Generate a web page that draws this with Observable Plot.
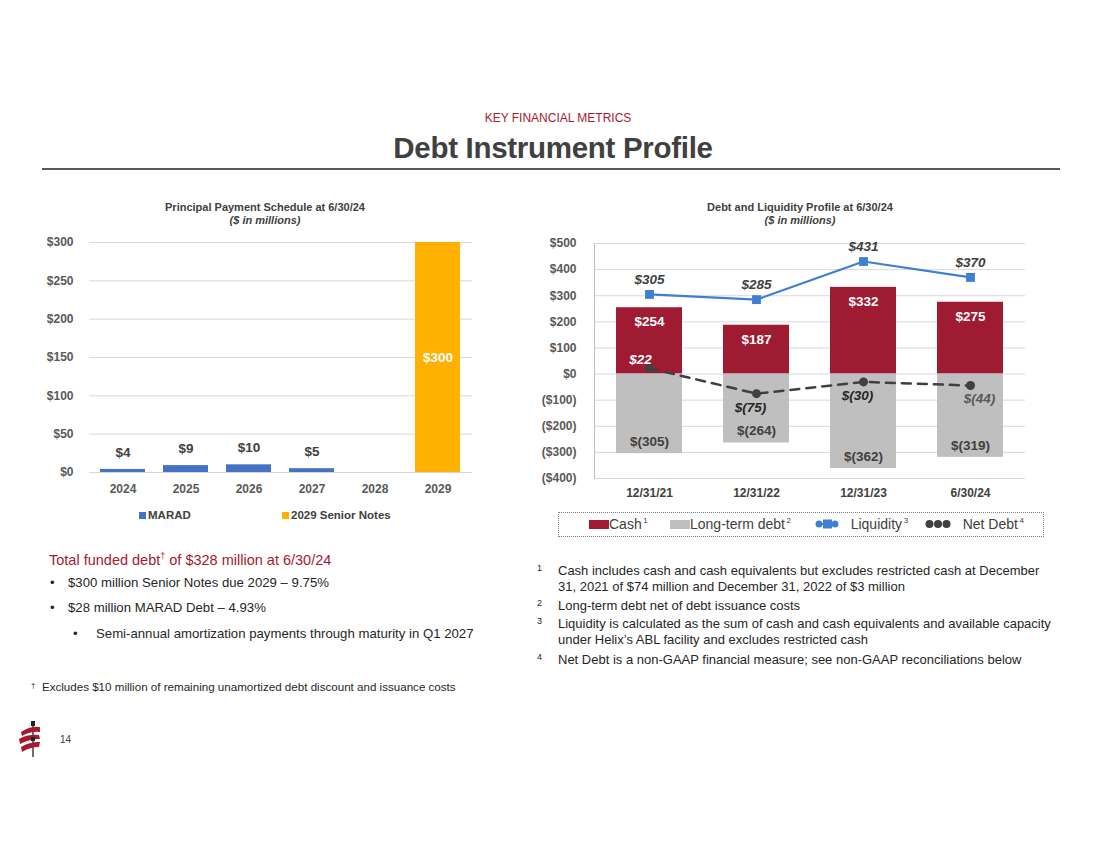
<!DOCTYPE html>
<html><head><meta charset="utf-8">
<script src="https://cdn.jsdelivr.net/npm/d3@7"></script>
<script src="https://cdn.jsdelivr.net/npm/@observablehq/plot@0.6"></script>
<style>
body{margin:0;background:#fff;font-family:"Liberation Sans",Arial,sans-serif;}
#page{position:relative;width:1100px;height:849px;overflow:hidden;background:#fff;}
.abs{position:absolute;}
.ctitle{font-weight:bold;font-size:11px;color:#404040;text-align:center;line-height:13px;}
.ctitle i{font-weight:bold;}
.fn{position:absolute;left:558px;font-size:13px;color:#262626;line-height:16px;width:497px;}
.fn sup{position:absolute;left:-21px;top:-3px;font-size:9px;}
.bl{position:absolute;font-size:13.2px;color:#262626;}
</style></head><body><div id="page">
<div class="abs" style="left:0;width:1116px;top:111px;text-align:center;font-size:12px;color:#A6192E;">KEY FINANCIAL METRICS</div>
<div class="abs" style="left:0;width:1106px;top:131px;text-align:center;font-size:29.5px;font-weight:bold;color:#404040;letter-spacing:-0.3px;">Debt Instrument Profile</div>
<div class="abs" style="left:42px;top:168px;width:1018px;height:2px;background:#595959;"></div>

<div class="abs ctitle" style="left:120px;width:290px;top:201px;">Principal Payment Schedule at 6/30/24<br><i>($ in millions)</i></div>
<div class="abs ctitle" style="left:655px;width:290px;top:201px;">Debt and Liquidity Profile at 6/30/24<br><i>($ in millions)</i></div>

<div id="left" class="abs" style="left:40px;top:230px;"></div>
<div id="right" class="abs" style="left:520px;top:230px;"></div>

<div class="abs" style="left:139px;top:509px;font-size:11.5px;font-weight:bold;color:#404040;"><span style="display:inline-block;width:7px;height:7px;background:#4472C4;margin-right:2px;"></span>MARAD</div>
<div class="abs" style="left:282px;top:509px;font-size:11.5px;font-weight:bold;color:#404040;"><span style="display:inline-block;width:7px;height:7px;background:#FFB000;margin-right:2px;"></span>2029 Senior Notes</div>

<div id="rlegend" class="abs" style="left:558px;top:512px;width:484px;height:23px;border:1px dotted #7f7f7f;font-size:14px;color:#404040;"></div>

<div class="abs" style="left:49px;top:551px;font-size:14.5px;color:#A6192E;">Total funded debt<sup style="font-size:9px;">†</sup> of $328 million at 6/30/24</div>
<div class="bl" style="left:50px;top:575px;">•</div><div class="bl" style="left:68px;top:575px;">$300 million Senior Notes due 2029 – 9.75%</div>
<div class="bl" style="left:50px;top:600px;">•</div><div class="bl" style="left:68px;top:600px;">$28 million MARAD Debt – 4.93%</div>
<div class="bl" style="left:73px;top:626px;">•</div><div class="bl" style="left:96px;top:626px;">Semi-annual amortization payments through maturity in Q1 2027</div>
<div class="abs" style="left:31px;top:680px;font-size:11.6px;color:#262626;"><span style="font-size:8px;vertical-align:3px;">†</span>&nbsp; Excludes $10 million of remaining unamortized debt discount and issuance costs</div>

<div class="fn" style="top:563px;"><sup>1</sup>Cash includes cash and cash equivalents but excludes restricted cash at December 31, 2021 of $74 million and December 31, 2022 of $3 million</div>
<div class="fn" style="top:598px;"><sup>2</sup>Long-term debt net of debt issuance costs</div>
<div class="fn" style="top:616px;"><sup>3</sup>Liquidity is calculated as the sum of cash and cash equivalents and available capacity under Helix’s ABL facility and excludes restricted cash</div>
<div class="fn" style="top:652px;"><sup>4</sup>Net Debt is a non-GAAP financial measure; see non-GAAP reconciliations below</div>

<svg class="abs" style="left:16px;top:720px;" width="26" height="38" viewBox="0 0 26 38">
  <line x1="17" y1="2" x2="17" y2="37" stroke="#222" stroke-width="1.3"/>
  <rect x="15" y="1" width="4" height="5" fill="#222"/>
  <path d="M5 12 Q14 6 24 7 L24 12 Q15 11 6 16 Z" fill="#A6192E"/>
  <path d="M3 19 Q12 14 23 15 L24 19 Q14 19 4 24 Z" fill="#A6192E"/>
  <path d="M5 27 Q13 22 24 22 L23 27 Q14 27 6 32 Z" fill="#A6192E"/>
  <rect x="15" y="17" width="4" height="4" fill="#222"/>
</svg>
<div class="abs" style="left:60px;top:734px;font-size:10px;color:#404040;">14</div>
</div>
<script>
// ---- Left chart data ----
const years = ["2024", "2025", "2026", "2027", "2028", "2029"];
const maradValues = [4, 9, 10, 5, 0, 0];
const seniorNotesValues = [0, 0, 0, 0, 0, 300];
const leftTicks = [0, 50, 100, 150, 200, 250, 300];

// ---- Right chart data ----
const periods = ["12/31/21", "12/31/22", "12/31/23", "6/30/24"];
const cashValues = [254, 187, 332, 275];
const longTermDebtValues = [-305, -264, -362, -319];
const liquidityValues = [305, 285, 431, 370];
const netDebtValues = [22, -75, -30, -44];
const rightTicks = [-400, -300, -200, -100, 0, 100, 200, 300, 400, 500];

const FONT = "'Liberation Sans', Arial, sans-serif";
const marad = years.map((y, i) => ({year: y, value: maradValues[i]})).filter(d => d.value > 0);
const senior = years.map((y, i) => ({year: y, value: seniorNotesValues[i]})).filter(d => d.value > 0);

const left = Plot.plot({
  width: 440, height: 268,
  marginLeft: 49, marginRight: 8, marginTop: 12, marginBottom: 26,
  x: {domain: years, paddingInner: 0.28, paddingOuter: 0.14, label: null},
  y: {domain: [0, 300], label: null},
  style: {fontFamily: FONT, fontSize: "12px", fontWeight: "bold", color: "#595959", background: "transparent"},
  marks: [
    Plot.gridY(leftTicks, {stroke: "#d9d9d9", strokeOpacity: 1}),
    Plot.axisY(leftTicks, {tickSize: 0, tickPadding: 16, tickFormat: d => "$" + d, label: null, fontSize: 12}),
    Plot.axisX({tickSize: 0, tickPadding: 12, label: null, fontSize: 12}),
    Plot.barY(marad, {x: "year", y: "value", fill: "#4472C4"}),
    Plot.barY(senior, {x: "year", y: "value", fill: "#FFB000"}),
    Plot.text(marad, {x: "year", y: "value", text: d => "$" + d.value, dy: -17, fill: "#404040", fontSize: 13.5, fontWeight: "bold"}),
    Plot.text(senior, {x: "year", y: d => d.value / 2, text: d => "$" + d.value, fill: "white", fontSize: 13.5, fontWeight: "bold"})
  ]
});
document.getElementById("left").appendChild(left);

const rows = periods.map((p, i) => ({period: p, cash: cashValues[i], ltd: longTermDebtValues[i], liq: liquidityValues[i], nd: netDebtValues[i], i}));
const money = v => v >= 0 ? "$" + v : "$(" + (-v) + ")";
const RED = "#9E1B32", GRAY = "#BFBFBF", BLUE = "#3F7FD2", DARK = "#404040";

const right = Plot.plot({
  width: 520, height: 272,
  marginLeft: 74, marginRight: 15, marginTop: 13, marginBottom: 24,
  x: {domain: periods, paddingInner: 0.38, paddingOuter: 0.19, label: null},
  y: {domain: [-400, 500], label: null},
  style: {fontFamily: FONT, fontSize: "12px", fontWeight: "bold", color: "#595959", background: "transparent"},
  marks: [
    Plot.gridY(rightTicks, {stroke: "#d9d9d9", strokeOpacity: 1}),
    Plot.frame({anchor: "left", stroke: "#bfbfbf"}),
    Plot.axisY(rightTicks, {tickSize: 0, tickPadding: 18, tickFormat: d => d >= 0 ? "$" + d : "($" + (-d) + ")", label: null, fontSize: 12}),
    Plot.axisX({tickSize: 0, tickPadding: 10, label: null, fontSize: 12, fill: "#404040"}),
    Plot.barY(rows, {x: "period", y: "cash", fill: RED}),
    Plot.barY(rows, {x: "period", y: "ltd", fill: GRAY}),
    Plot.text(rows, {x: "period", y: "cash", text: d => money(d.cash), dy: 14, fill: "white", fontSize: 13.5, fontWeight: "bold"}),
    Plot.text(rows, {x: "period", y: "ltd", text: d => money(d.ltd), dy: -12, fill: DARK, fontSize: 13.5, fontWeight: "bold"}),
    Plot.line(rows, {x: "period", y: "liq", stroke: BLUE, strokeWidth: 2.2}),
    Plot.dot(rows, {x: "period", y: "liq", symbol: "square", r: 5, fill: BLUE}),
    Plot.text(rows, {x: "period", y: "liq", text: d => money(d.liq), dy: -15, fill: DARK, fontSize: 13.5, fontWeight: "bold", fontStyle: "italic"}),
    Plot.line(rows, {x: "period", y: "nd", stroke: DARK, strokeWidth: 2.5, strokeDasharray: "9,7"}),
    Plot.dot(rows, {x: "period", y: "nd", r: 4.5, fill: DARK}),
    Plot.text(rows.filter(d => d.nd >= 0), {x: "period", y: "nd", text: d => money(d.nd), dx: -9, dy: -9, fill: "white", fontSize: 13.5, fontWeight: "bold", fontStyle: "italic"}),
    Plot.text(rows.filter(d => d.nd < 0 && d.i < periods.length - 1), {x: "period", y: "nd", text: d => money(d.nd), dx: -6, dy: 14, fill: "#262626", fontSize: 13.5, fontWeight: "bold", fontStyle: "italic"}),
    Plot.text(rows.filter(d => d.nd < 0 && d.i === periods.length - 1), {x: "period", y: "nd", text: d => money(d.nd), dx: 9, dy: 13, fill: "#595959", fontSize: 13.5, fontWeight: "bold", fontStyle: "italic"})
  ]
});
document.getElementById("right").appendChild(right);

// right legend
const leg = document.getElementById("rlegend");
leg.innerHTML = `
<div class="abs" style="left:30px;top:3px;"><span style="display:inline-block;width:20px;height:9px;background:${RED};vertical-align:0px;"></span>Cash<sup style="font-size:8px;">&thinsp;1</sup></div>
<div class="abs" style="left:111px;top:3px;"><span style="display:inline-block;width:20px;height:9px;background:${GRAY};vertical-align:0px;"></span>Long-term debt<sup style="font-size:8px;">&thinsp;2</sup></div>
<div class="abs" style="left:256px;top:3px;"><svg width="24" height="12" style="vertical-align:-1px"><line x1="2" y1="6" x2="22" y2="6" stroke="${BLUE}" stroke-width="2"/><circle cx="4" cy="6" r="3.5" fill="${BLUE}"/><rect x="8" y="1.5" width="9" height="9" fill="${BLUE}"/><circle cx="20" cy="6" r="3.5" fill="${BLUE}"/></svg>&nbsp;&nbsp; Liquidity<sup style="font-size:8px;">&thinsp;3</sup></div>
<div class="abs" style="left:366px;top:3px;"><svg width="26" height="12" style="vertical-align:-1px"><circle cx="4.5" cy="6" r="4" fill="${DARK}"/><circle cx="13" cy="6" r="4" fill="${DARK}"/><circle cx="21.5" cy="6" r="4" fill="${DARK}"/></svg>&nbsp;&nbsp; Net Debt<sup style="font-size:8px;">&thinsp;4</sup></div>`;
</script>
</body></html>
